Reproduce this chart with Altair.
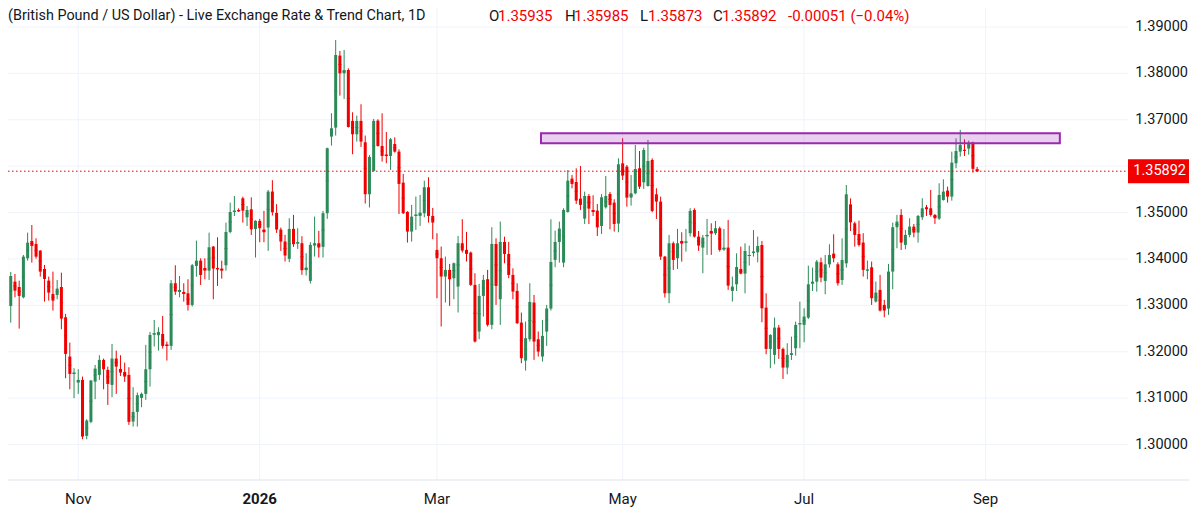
import altair as alt
import pandas as pd

# ---- daily OHLC readings (GBP/USD, 1D) ----
open_ = [1.34352,1.34065,1.32988,1.33512,1.33397,1.33175,1.34015,1.34388,1.34324,1.34180,
         1.33785,1.33534,1.33247,1.33225,1.33397,1.32744,1.31897,1.31523,1.31337,1.31394,
         1.30188,1.30490,1.31358,1.31502,1.31825,1.31610,1.31287,1.31854,1.31631,1.31567,
         1.31502,1.30497,1.30705,1.31007,1.31093,1.31624,1.32371,1.32357,1.32385,1.32156,
         1.32127,1.33477,1.33290,1.33290,1.33261,1.33010,1.33850,1.33965,1.33807,1.33750,
         1.34267,1.33807,1.33793,1.33865,1.34583,1.35013,1.35056,1.35308,1.34898,1.35071,
         1.34649,1.34822,1.34635,1.34678,1.35453,1.34994,1.34635,1.34376,1.34003,1.34649,
         1.34333,1.34340,1.33759,1.33529,1.34290,1.34340,1.34262,1.34987,1.36638,1.36832,
         1.38383,1.38002,1.38074,1.36976,1.36688,1.36976,1.36516,1.35396,1.35899,1.36982,
         1.36436,1.36249,1.36221,1.36479,1.36314,1.35646,1.35015,1.34591,1.34928,1.34928,
         1.34986,1.35546,1.34928,1.34196,1.34017,1.33622,1.33765,1.33586,1.33406,1.34340,
         1.34196,1.34139,1.33442,1.32437,1.33205,1.33564,1.32581,1.34324,1.33133,1.34368,
         1.34109,1.33657,1.33312,1.32630,1.31811,1.32271,1.33061,1.32271,1.31898,1.32436,
         1.32932,1.33980,1.34368,1.33922,1.35014,1.35732,1.35660,1.35301,1.34870,1.35358,
         1.35057,1.35042,1.34712,1.35114,1.35401,1.35215,1.34763,1.36062,1.35991,1.35323,
         1.35416,1.35955,1.35653,1.35574,1.36134,1.35395,1.35237,1.34052,1.33262,1.34339,
         1.34016,1.34389,1.34353,1.34555,1.35057,1.34483,1.34246,1.34490,1.34605,1.34555,
         1.34662,1.34203,1.34246,1.33312,1.33455,1.33785,1.33685,1.34065,1.34130,1.34144,
         1.34302,1.32952,1.32062,1.31933,1.32522,1.32062,1.31660,1.31933,1.32076,1.32593,
         1.32579,1.32737,1.33469,1.33512,1.33929,1.33527,1.33886,1.34116,1.33886,1.33548,
         1.33907,1.35178,1.34769,1.34540,1.34354,1.33751,1.33822,1.33083,1.33334,1.33011,
         1.32932,1.33729,1.34684,1.34950,1.34304,1.34519,1.34698,1.34569,1.34899,1.35115,
         1.35093,1.34950,1.34871,1.35273,1.35474,1.35345,1.36063,1.36314,1.36350,1.36379,
         1.36508,1.35935]
high = [1.34395,1.34209,1.33721,1.33677,1.33534,1.34087,1.34568,1.34733,1.34446,1.34190,
        1.33871,1.33620,1.33728,1.33548,1.33706,1.32816,1.32198,1.31646,1.31624,1.31466,
        1.30547,1.31394,1.31717,1.31926,1.31854,1.31681,1.32170,1.32026,1.31926,1.31768,
        1.31667,1.31237,1.31122,1.31122,1.32149,1.32429,1.32687,1.32529,1.32773,1.32220,
        1.33549,1.33865,1.33635,1.33477,1.33563,1.33893,1.34396,1.34015,1.34015,1.34568,
        1.34281,1.34468,1.33965,1.34784,1.35214,1.35358,1.35092,1.35344,1.35143,1.35329,
        1.34836,1.34865,1.35037,1.35489,1.35698,1.35181,1.34678,1.34520,1.34879,1.34951,
        1.34664,1.34491,1.34125,1.34362,1.34915,1.34606,1.35037,1.36401,1.37141,1.38720,
        1.38483,1.38505,1.38110,1.37162,1.37090,1.37335,1.36660,1.36243,1.37019,1.37011,
        1.37140,1.36738,1.36608,1.36623,1.36364,1.35833,1.35029,1.35165,1.35345,1.35381,
        1.35689,1.35761,1.35101,1.34555,1.34268,1.34052,1.33894,1.33923,1.34498,1.34857,
        1.34584,1.34160,1.33693,1.33464,1.33658,1.33765,1.34684,1.34447,1.34806,1.34482,
        1.34368,1.33800,1.33477,1.32845,1.32652,1.33477,1.33226,1.32436,1.32687,1.33011,
        1.34856,1.34612,1.34806,1.35093,1.35918,1.35811,1.35954,1.36005,1.35452,1.35401,
        1.35373,1.35186,1.35401,1.35789,1.35445,1.35287,1.36170,1.36601,1.36026,1.35811,
        1.36457,1.36328,1.36400,1.36565,1.36170,1.35524,1.35344,1.34066,1.34519,1.34375,
        1.34648,1.34576,1.34648,1.35093,1.35093,1.34605,1.34519,1.34863,1.34770,1.34820,
        1.34698,1.34648,1.34842,1.33621,1.34123,1.34266,1.34338,1.34288,1.34625,1.34482,
        1.34388,1.33261,1.32378,1.32737,1.32579,1.32091,1.32184,1.32328,1.32651,1.33082,
        1.32938,1.33857,1.33814,1.33979,1.34029,1.34087,1.34317,1.34532,1.33929,1.34446,
        1.35595,1.35307,1.34805,1.34828,1.34555,1.33966,1.33945,1.33514,1.33657,1.33119,
        1.33894,1.34785,1.34950,1.35072,1.34627,1.34878,1.34756,1.34950,1.35309,1.35165,
        1.35488,1.34971,1.35632,1.35718,1.35560,1.36314,1.36601,1.36781,1.36580,1.36551,
        1.36529,1.35985]
low = [1.33728,1.32816,1.32629,1.33175,1.32500,1.33153,1.33965,1.33922,1.34008,1.33620,
       1.33082,1.33103,1.32888,1.33132,1.32486,1.31430,1.31193,1.30999,1.31093,1.30116,
       1.30116,1.30461,1.30978,1.31394,1.31193,1.30856,1.31021,1.31093,1.31480,1.31351,
       1.30425,1.30389,1.30389,1.30806,1.30964,1.31251,1.32113,1.32026,1.32070,1.31811,
       1.32041,1.33226,1.33175,1.33082,1.32888,1.32974,1.33620,1.33441,1.33563,1.33549,
       1.33132,1.33419,1.33577,1.33750,1.34554,1.34927,1.35013,1.34784,1.34712,1.34518,
       1.34032,1.34362,1.34362,1.34175,1.34936,1.34563,1.34175,1.33946,1.33931,1.34262,
       1.34218,1.33658,1.33644,1.33472,1.34053,1.34032,1.34032,1.34865,1.36444,1.36660,
       1.37521,1.37449,1.36832,1.36258,1.36530,1.36416,1.35195,1.35109,1.35884,1.36422,
       1.36099,1.36063,1.35919,1.36293,1.34971,1.34971,1.34354,1.34376,1.34627,1.34713,
       1.34900,1.34785,1.34426,1.33155,1.32545,1.33062,1.32990,1.33133,1.32846,1.34139,
       1.33945,1.33421,1.32200,1.32272,1.32760,1.32545,1.32487,1.33011,1.32580,1.33908,
       1.33585,1.33133,1.32601,1.31754,1.31596,1.32221,1.31826,1.31898,1.31790,1.32127,
       1.32888,1.33822,1.33922,1.33822,1.34999,1.35524,1.35186,1.35057,1.34755,1.34755,
       1.34928,1.34497,1.34540,1.35086,1.34640,1.34590,1.34576,1.35703,1.35129,1.35150,
       1.35395,1.35510,1.35510,1.35560,1.35007,1.34863,1.33980,1.33169,1.33047,1.33765,
       1.33786,1.33944,1.34160,1.34483,1.34461,1.34174,1.33693,1.34088,1.34088,1.34519,
       1.34160,1.34174,1.33334,1.33083,1.33311,1.33670,1.33261,1.33857,1.34051,1.33929,
       1.32636,1.31947,1.31646,1.31732,1.31847,1.31416,1.31516,1.31825,1.31918,1.32076,
       1.32206,1.32708,1.33311,1.33297,1.33498,1.33240,1.33814,1.33929,1.33426,1.33441,
       1.33814,1.34604,1.34266,1.34268,1.33621,1.33564,1.33011,1.33061,1.32868,1.32745,
       1.32796,1.33349,1.34232,1.34196,1.34210,1.34469,1.34469,1.34354,1.34842,1.34928,
       1.34914,1.34756,1.34842,1.35258,1.35215,1.35258,1.35955,1.36206,1.36221,1.36249,
       1.35862,1.35873]
close = [1.34036,1.33031,1.33634,1.33318,1.33204,1.34051,1.34352,1.34281,1.34051,1.33728,
         1.33570,1.33275,1.33103,1.33362,1.32715,1.31954,1.31523,1.31552,1.31394,1.30174,
         1.30518,1.31380,1.31638,1.31825,1.31624,1.31308,1.31854,1.31681,1.31552,1.31466,
         1.30490,1.30705,1.31064,1.31093,1.31624,1.32364,1.32400,1.32429,1.32127,1.32127,
         1.33477,1.33297,1.33333,1.33247,1.33010,1.33865,1.33965,1.33656,1.33750,1.34252,
         1.33793,1.33778,1.33750,1.34583,1.35013,1.35042,1.35028,1.35042,1.35056,1.34640,
         1.34822,1.34664,1.34577,1.35453,1.35008,1.34635,1.34376,1.34075,1.34649,1.34319,
         1.34362,1.33759,1.33816,1.34305,1.34340,1.34247,1.34987,1.36387,1.36818,1.38397,
         1.38002,1.38074,1.36846,1.36688,1.36976,1.36530,1.35396,1.36200,1.36976,1.36436,
         1.36221,1.36221,1.36580,1.36314,1.35618,1.34986,1.34591,1.34914,1.34957,1.35000,
         1.35546,1.34928,1.34785,1.34017,1.33622,1.33765,1.33564,1.33909,1.34340,1.34182,
         1.34110,1.33442,1.32222,1.33205,1.33550,1.32581,1.34325,1.33420,1.34368,1.34109,
         1.33657,1.33298,1.32616,1.31862,1.32293,1.33075,1.32221,1.32005,1.32343,1.32932,
         1.33937,1.34368,1.34655,1.35057,1.35689,1.35617,1.35258,1.35165,1.35358,1.35086,
         1.35014,1.34683,1.35330,1.35358,1.35165,1.34755,1.36041,1.35797,1.35323,1.35416,
         1.35940,1.35560,1.36350,1.36113,1.35036,1.35237,1.34052,1.33262,1.34339,1.33980,
         1.34339,1.34332,1.34375,1.35036,1.34483,1.34289,1.34461,1.34519,1.34547,1.34662,
         1.34196,1.34246,1.33427,1.33406,1.33828,1.33685,1.34173,1.34087,1.34159,1.34281,
         1.32938,1.32062,1.32364,1.32522,1.32062,1.31660,1.31933,1.31969,1.32579,1.32615,
         1.32759,1.33455,1.33512,1.33943,1.33599,1.33886,1.34087,1.34015,1.33477,1.33979,
         1.35394,1.34790,1.34518,1.34304,1.33765,1.33772,1.33155,1.33277,1.32889,1.32889,
         1.33729,1.34684,1.34806,1.34354,1.34519,1.34698,1.34569,1.34928,1.35093,1.35072,
         1.34950,1.34878,1.35381,1.35452,1.35345,1.36077,1.36328,1.36458,1.36335,1.36493,
         1.35943,1.35892]

# time-axis ticks (bar index of first trading day of the month)
tick_index = [18, 61, 103, 147, 190, 233]
tick_labels = ["Nov", "2026", "Mar", "May", "Jul", "Sep"]
tick_bold = [False, True, False, False, False, False]
price_ticks = [1.30, 1.31, 1.32, 1.33, 1.34, 1.35, 1.36, 1.37, 1.38, 1.39]

# resistance zone drawing (bar index range, price range)
zone_start, zone_end = 127.65, 250.6
zone_top, zone_bottom = 1.36709, 1.36494

last_close = close[-1]

header_text = ["(British Pound / US Dollar) - Live Exchange Rate & Trend Chart, 1D",
               "O", "1.35935", "H", "1.35985", "L", "1.35873", "C", "1.35892",
               "-0.00051 (\u22120.04%)"]

# ---- layout / style ----
UP = "#2b8a57"
DOWN = "#f20000"
INK = "#131722"
GRID = "#f0f3fa"
FONT = "Roboto"
W, H = 1120, 472
RIGHT = 61
header_x = [0, 481, 490, 557, 566, 632, 640, 705, 714, 780]
header_c = [INK, INK, DOWN, INK, DOWN, INK, DOWN, INK, DOWN, DOWN]
header_fs = [14.4, 15, 15, 15, 15, 15, 15, 15, 15, 15]

df = pd.DataFrame({"idx": list(range(len(open_))), "open": open_, "high": high,
                   "low": low, "close": close})
df["date"] = pd.bdate_range("2025-10-08", periods=len(df)).strftime("%Y-%m-%d")

xscale = alt.Scale(domain=[1.351, 266.75], nice=False, zero=False, padding=0)
yscale = alt.Scale(domain=[1.292371, 1.394095], nice=False, zero=False, padding=0)

X = lambda f: alt.X(f, scale=xscale, axis=None)
Y = lambda f: alt.Y(f, scale=yscale, axis=None)

color = alt.condition("datum.close >= datum.open", alt.value(UP), alt.value(DOWN))

# ---- grid + axis labels drawn from the tick arrays ----
xt = pd.DataFrame({"i": tick_index, "t": tick_labels, "b": tick_bold})
yt = pd.DataFrame({"p": price_ticks, "t": [f"{p:.5f}" for p in price_ticks]})

vgrid = alt.Chart(xt).mark_rule(color=GRID, strokeWidth=1).encode(
    x=X("i:Q"), y=alt.value(0), y2=alt.value(H))
hgrid = alt.Chart(yt).mark_rule(color=GRID, strokeWidth=1).encode(
    y=Y("p:Q"), x=alt.value(0), x2=alt.value(W))
xlab = alt.Chart(xt).transform_filter("!datum.b").mark_text(
    align="center", baseline="middle", font=FONT, fontSize=15, color=INK).encode(
    x=X("i:Q"), y=alt.value(H + 19), text="t:N")
xlab_bold = alt.Chart(xt).transform_filter("datum.b").mark_text(
    align="center", baseline="middle", font=FONT, fontSize=15, fontWeight="bold",
    color=INK).encode(x=X("i:Q"), y=alt.value(H + 19), text="t:N")
# the price label hidden behind the last-price tag is not drawn
ylab = alt.Chart(yt).transform_filter(
    f"abs(datum.p - {last_close}) > 0.0028"
).mark_text(align="right", baseline="middle", font=FONT, fontSize=14.5, color=INK).encode(
    y=Y("p:Q"), x=alt.value(W + RIGHT - 1), text="t:N")
xdomain = alt.Chart(yt.head(1)).mark_rule(color="#e0e3eb", strokeWidth=1).encode(
    x=alt.value(0), x2=alt.value(W + RIGHT), y=alt.value(H))

# ---- candles ----
base = alt.Chart(df)
wicks = base.mark_rule(strokeWidth=1, clip=True).encode(
    x=X("idx:Q"), y=Y("low:Q"), y2="high:Q", color=color,
    tooltip=["date:N", "open:Q", "high:Q", "low:Q", "close:Q"],
)
bodies = base.mark_bar(size=3, clip=True).encode(
    x=X("idx:Q"), y=Y("open:Q"), y2="close:Q", color=color,
)
mids = base.transform_calculate(
    mid="(datum.open + datum.close) / 2", xl="datum.idx - 0.36", xr="datum.idx + 0.36"
).mark_rule(strokeWidth=1, clip=True).encode(
    x=X("xl:Q"), x2="xr:Q", y=Y("mid:Q"), color=color,
)

zone_df = pd.DataFrame({"x0": [zone_start], "x1": [zone_end],
                        "y0": [zone_top], "y1": [zone_bottom]})
zone = alt.Chart(zone_df).mark_rect(fill="#9c27b0", fillOpacity=0.22, stroke="#9c27b0",
                                    strokeWidth=2, clip=True).encode(
    x=X("x0:Q"), x2="x1:Q", y=Y("y0:Q"), y2="y1:Q",
)

last_df = pd.DataFrame({"p": [last_close], "t": [f"{last_close:.5f}"]})
last_line = alt.Chart(last_df).mark_rule(color=DOWN, strokeWidth=1, strokeDash=[1.5, 2.5]).encode(
    x=alt.value(0), x2=alt.value(W), y=Y("p:Q"))
tag = alt.Chart(last_df).mark_rect(color=DOWN, yOffset=-12, y2Offset=12).encode(
    x=alt.value(W), x2=alt.value(W + RIGHT), y=Y("p:Q"), y2="p:Q")
tag_text = alt.Chart(last_df).mark_text(align="right", baseline="middle", font=FONT,
                                        fontSize=14.5, color="white").encode(
    x=alt.value(W + RIGHT - 3), y=Y("p:Q"), text="t:N")

header_layers = []
for t, hx, hc, fs in zip(header_text, header_x, header_c, header_fs):
    header_layers.append(
        alt.Chart(pd.DataFrame({"t": [t]})).mark_text(
            align="left", baseline="top", font=FONT, fontSize=fs, color=hc
        ).encode(x=alt.value(hx), y=alt.value(1), text="t:N")
    )

chart = alt.layer(vgrid, hgrid, xdomain, xlab, xlab_bold, ylab,
                  wicks, bodies, mids, zone, last_line, tag, tag_text,
                  *header_layers).properties(
    width=W, height=H,
    autosize=alt.AutoSizeParams(type="none"),
    padding={"left": 0, "top": 0, "right": RIGHT, "bottom": 30},
    background="white",
).configure_view(strokeWidth=0)

chart.save("out.html", embed_options={"renderer": "svg", "actions": False})
